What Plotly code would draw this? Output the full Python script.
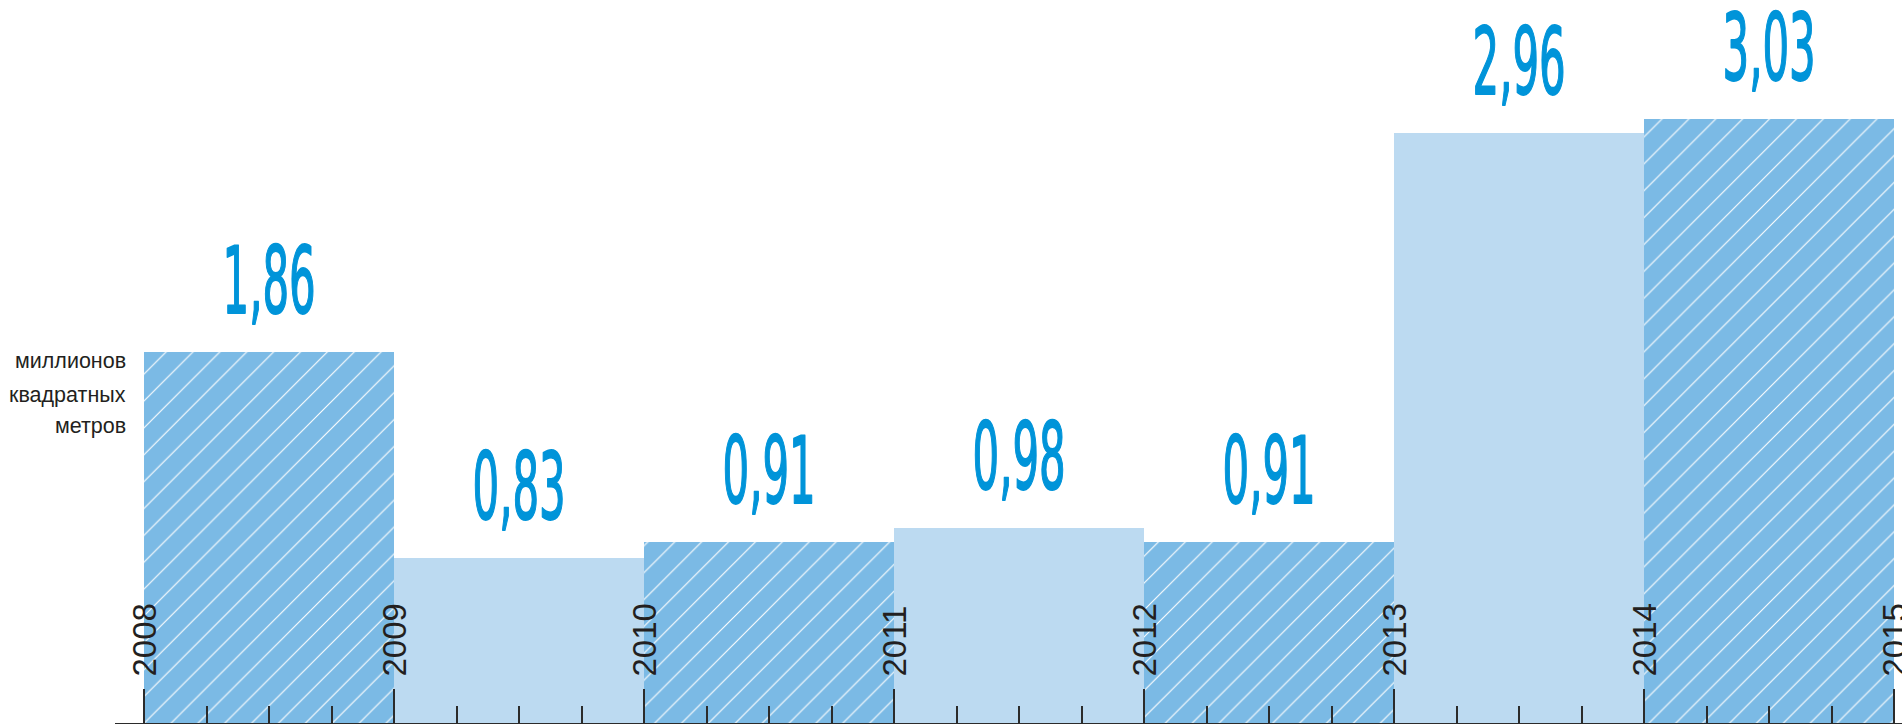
import plotly.graph_objects as go

# ---- data ----
years = [2008, 2009, 2010, 2011, 2012, 2013, 2014]
values = [1.86, 0.83, 0.91, 0.98, 0.91, 2.96, 3.03]
hatched = [True, False, True, False, True, False, True]
axis_years = [2008, 2009, 2010, 2011, 2012, 2013, 2014, 2015]
unit_lines = ["миллионов", "квадратных", "метров"]

# ---- style ----
HATCH_BG = "#7bbae5"
SOLID_BG = "#bcdaf1"
LABEL_BLUE = "#0094d9"
DARK = "#231f20"
W, H = 1902, 724
PX_PER_YEAR = 250
PX_PER_UNIT = 199.2
LEFT = 115

hx = [y for y, h in zip(years, hatched) if h]
hv = [v for v, h in zip(values, hatched) if h]
sx = [y for y, h in zip(years, hatched) if not h]
sv = [v for v, h in zip(values, hatched) if not h]

fig = go.Figure()
fig.add_trace(go.Bar(
    x=hx, y=hv, width=1, offset=0,
    marker=dict(
        color=HATCH_BG, line=dict(width=0),
        pattern=dict(shape="/", fillmode="overlay", fgcolor="#ffffff",
                     fgopacity=1, size=19, solidity=0.06),
    ),
    hoverinfo="skip",
))
fig.add_trace(go.Bar(
    x=sx, y=sv, width=1, offset=0,
    marker=dict(color=SOLID_BG, line=dict(width=0)),
    hoverinfo="skip",
))

annotations = []
# value labels
for yr, v in zip(years, values):
    annotations.append(dict(
        x=yr + 0.5, y=v, xref="x", yref="y", showarrow=False,
        text=f"{v:.2f}".replace(".", ","), xanchor="center", yanchor="bottom",
        yshift=15,
        font=dict(family="Liberation Sans Narrow, DejaVu Sans Condensed, sans-serif",
                  size=93, color=LABEL_BLUE),
    ))
# year labels
for yr in axis_years:
    annotations.append(dict(
        x=yr, y=0, xref="x", yref="y", showarrow=False, text=str(yr),
        textangle=-90, xanchor="center", yanchor="bottom", yshift=44,
        font=dict(family="Liberation Sans, Arial, sans-serif", size=33, color=DARK),
    ))
# unit text
unit_y = [0.5007, 0.4537, 0.4108]
for txt, yy in zip(unit_lines, unit_y):
    annotations.append(dict(
        x=axis_years[0], y=yy, xref="x", yref="paper", showarrow=False, text=txt,
        xanchor="right", yanchor="middle", xshift=-16,
        font=dict(family="Liberation Sans, Arial, sans-serif", size=21.5, color=DARK),
    ))

plot_w = W - LEFT
plot_h = H - 1
x0 = axis_years[0] - 29 / PX_PER_YEAR
x1 = x0 + plot_w / PX_PER_YEAR

fig.update_layout(
    width=W, height=H,
    margin=dict(l=LEFT, r=0, t=0, b=1, pad=0),
    paper_bgcolor="white", plot_bgcolor="white",
    showlegend=False, bargap=0, barmode="overlay",
    annotations=annotations,
    xaxis=dict(
        range=[x0, x1], showgrid=False, zeroline=False,
        showline=True, linecolor="#2b2b2b", linewidth=2,
        tickmode="array", tickvals=axis_years, showticklabels=False,
        ticks="inside", ticklen=34, tickwidth=2, tickcolor="#2b2b2b",
        minor=dict(dtick=0.25, tick0=2008, ticks="inside", ticklen=17,
                   tickwidth=1.5, tickcolor="#2b2b2b", showgrid=False),
        fixedrange=True,
    ),
    yaxis=dict(range=[0, plot_h / PX_PER_UNIT], visible=False, fixedrange=True),
)

post = """
document.body.style.margin = '0';
document.body.style.overflow = 'hidden';
document.querySelectorAll('text.annotation-text').forEach(function(el){
  if (/^\\d,\\d\\d$/.test(el.textContent.trim())) {
    el.style.transformBox = 'fill-box';
    el.style.transformOrigin = 'center';
    el.style.transform = 'scaleX(0.5)';
    el.style.stroke = '#0094d9';
    el.style.strokeWidth = '1.8px';
    el.style.strokeLinejoin = 'round';
  }
});
"""
fig.write_html("out.html", post_script=post, config={"displayModeBar": False})
